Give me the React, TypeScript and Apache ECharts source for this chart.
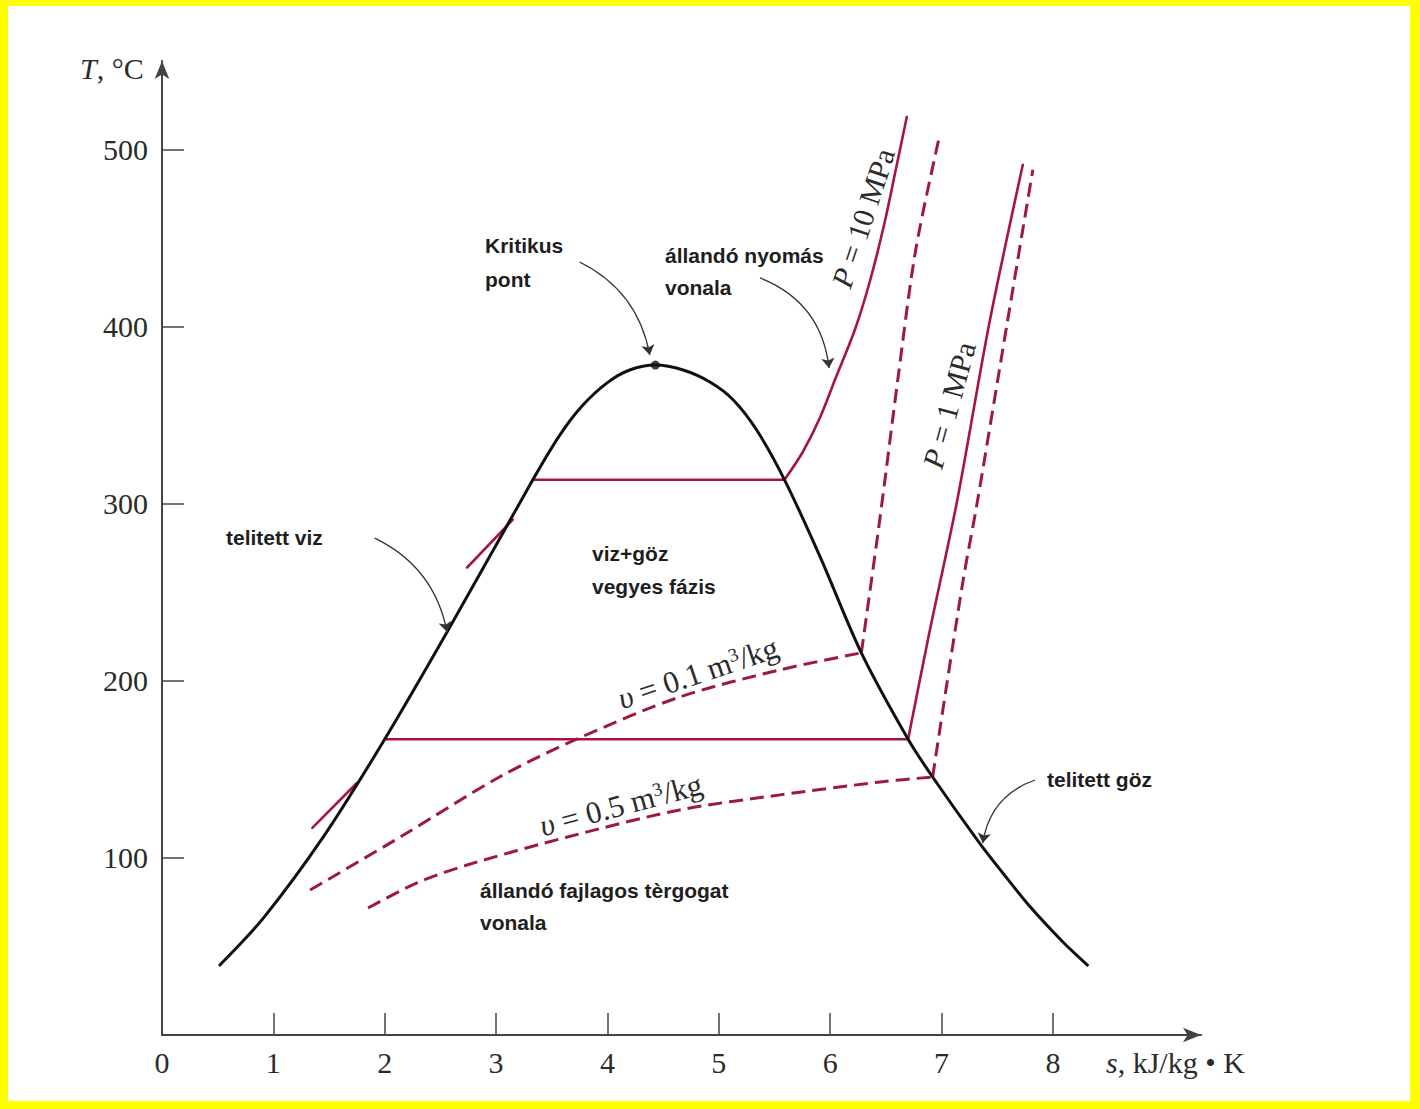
import React, { useEffect, useRef } from 'react';
import * as echarts from 'echarts';

// ---- axis ticks ----
const xTickLabels = [0, 1, 2, 3, 4, 5, 6, 7, 8];
const xTickMarks = [1, 2, 3, 4, 5, 6, 7, 8];
const yTickValues = [100, 200, 300, 400, 500];

// ---- curves: [s (kJ/kg·K), T (°C)] ----
const saturationDome = [
  [0.52, 39.5], [0.91, 66], [1.45, 112], [2.0, 167], [2.56, 227.5], [3.33, 313.5],
  [3.575, 339], [3.78, 355.7], [4.0, 368.4], [4.2, 375.5], [4.43, 378.3], [4.68, 375.5],
  [4.92, 368.7], [5.13, 358.6], [5.34, 341.6], [5.59, 313.5], [5.91, 270], [6.28, 215.8],
  [6.7, 167], [6.92, 145.7], [7.34, 108.5], [7.55, 91.5], [7.79, 72.8], [8.09, 52.5], [8.31, 39.5],
];
const criticalPoint = [[4.43, 378.3]];

const p10Saturated = [[3.33, 313.5], [5.59, 313.5]];
const p10Superheated = [
  [5.59, 313.5], [5.754, 329.2], [5.907, 348.4], [6.059, 372.5], [6.221, 398.1], [6.355, 425.2],
  [6.49, 459.1], [6.598, 491.3], [6.688, 518.4],
];
const p10Liquid = [[2.74, 264], [3.15, 291]];

const p1Saturated = [[2.0, 167], [6.7, 167]];
const p1Superheated = [[6.7, 167], [6.89, 227], [7.14, 301.6], [7.43, 402.2], [7.73, 491.4]];
const p1Liquid = [[1.35, 117], [1.75, 142.3]];

const v01Wet = [
  [1.33, 81.9], [2.14, 111.8], [3.03, 145.7], [3.75, 167.8], [4.65, 190.9], [5.55, 206.2], [6.28, 215.8],
];
const v01Superheated = [[6.28, 215.8], [6.445, 290.8], [6.607, 369.9], [6.768, 443.3], [6.984, 508.2]];

const v05Wet = [
  [1.85, 71.7], [2.29, 85.9], [2.74, 96], [3.64, 111.8], [4.65, 127.1], [5.55, 135.6],
  [6.45, 142.9], [6.92, 145.7],
];
const v05Superheated = [[6.92, 145.7], [7.19, 255.3], [7.32, 300.5], [7.59, 402.2], [7.82, 488.6]];

// annotation arrows: from, to, curveness
const annotationArrows = [
  { from: [3.75, 436.5], to: [4.38, 384.0], curveness: 0.25 },
  { from: [5.37, 427.5], to: [5.99, 376.6], curveness: 0.3 },
  { from: [1.91, 280.6], to: [2.56, 227.6], curveness: 0.25 },
  { from: [7.84, 144.0], to: [7.37, 108.4], curveness: -0.3 },
];

const SERIF = '"Liberation Serif", "Times New Roman", serif';
const SANS = '"Liberation Sans", Arial, sans-serif';
const RED = '#a5153f';
const RED_DASH = '#9c1b3d';
const AXIS = '#444';
const TXT = '#2b2b2b';

function redLine(data: number[][], smooth: number | boolean = false) {
  return {
    type: 'line', data, smooth, showSymbol: false, symbol: 'none', z: 2,
    lineStyle: { color: RED, width: 2.6, cap: 'round' },
  };
}
function redDash(data: number[][]) {
  return {
    type: 'line', data, smooth: 0.3, showSymbol: false, symbol: 'none', z: 2,
    lineStyle: { color: RED_DASH, width: 3, type: [14, 7] },
  };
}

function sansText(x: number, y: number, text: string) {
  return {
    type: 'text', x, y, z: 10,
    style: { text, fontFamily: SANS, fontWeight: 'bold', fontSize: 21, fill: '#1e1e1e', verticalAlign: 'middle', align: 'left' },
  };
}

const serifRich = (size: number) => ({
  i: { fontStyle: 'italic', fontSize: size, fontFamily: SERIF, fill: TXT },
  n: { fontSize: size, fontFamily: SERIF, fill: TXT },
  sup: { fontSize: Math.round(size * 0.6), fontFamily: SERIF, fill: TXT, verticalAlign: 'top' },
});

function serifText(x: number, y: number, text: string, size: number, rotation = 0, align = 'center') {
  return {
    type: 'text', x, y, rotation, z: 10,
    style: { text, rich: serifRich(size), fontFamily: SERIF, fontSize: size, fill: TXT, align, verticalAlign: 'middle' },
  };
}

export default function App() {
  const ref = useRef<HTMLDivElement>(null);
  useEffect(() => {
    if (!ref.current) return;
    const chart = echarts.init(ref.current, null, { renderer: 'svg' });
    const option: any = {
      animation: false,
      backgroundColor: 'transparent',
      grid: { left: 162, top: 61, width: 1039, height: 974 },
      xAxis: {
        type: 'value', min: 0, max: 9.33,
        axisLine: { show: true, onZero: false, symbol: ['none', 'arrow'], symbolSize: [11, 18], lineStyle: { color: AXIS, width: 2 } },
        axisTick: { show: true, inside: true, length: 22, customValues: xTickMarks, lineStyle: { color: AXIS, width: 1.5 } },
        axisLabel: { customValues: xTickLabels, margin: 12, fontSize: 30, fontFamily: SERIF, color: TXT },
        splitLine: { show: false },
      },
      yAxis: {
        type: 'value', min: 0, max: 550,
        axisLine: { show: true, onZero: false, symbol: ['none', 'arrow'], symbolSize: [11, 18], lineStyle: { color: AXIS, width: 2 } },
        axisTick: { show: true, inside: true, length: 22, customValues: yTickValues, lineStyle: { color: AXIS, width: 1.5 } },
        axisLabel: { customValues: yTickValues, margin: 14, fontSize: 30, fontFamily: SERIF, color: TXT },
        splitLine: { show: false },
      },
      series: [
        redLine(p10Saturated),
        redLine(p10Superheated, 0.3),
        redLine(p10Liquid),
        redLine(p1Saturated),
        redLine(p1Superheated, 0.3),
        redLine(p1Liquid),
        redDash(v01Wet),
        redDash(v01Superheated),
        redDash(v05Wet),
        redDash(v05Superheated),
        {
          type: 'line', data: saturationDome, smooth: 0.3, showSymbol: false, symbol: 'none', z: 3,
          lineStyle: { color: '#111', width: 3, join: 'round', cap: 'round' },
        },
        {
          type: 'scatter', data: criticalPoint, symbol: 'circle', symbolSize: 9, z: 4,
          itemStyle: { color: '#111' },
        },
        {
          type: 'lines', coordinateSystem: 'cartesian2d', z: 5,
          symbol: ['none', 'arrow'], symbolSize: 10,
          lineStyle: { color: '#333', width: 1.3, opacity: 1 },
          data: annotationArrows.map((a) => ({ coords: [a.from, a.to], lineStyle: { curveness: a.curveness } })),
        },
      ],
      graphic: [
        serifText(80, 68, '{i|T}{n|, °C}', 30, 0, 'left'),
        serifText(1106, 1062, '{i|s}{n|, kJ/kg • K}', 30, 0, 'left'),
        serifText(863, 218, '{i|P}{n| = 10 MPa}', 30, 1.253),
        serifText(949, 405, '{i|P}{n| = 1 MPa}', 30, 1.305),
        serifText(698, 673, '{i|υ}{n| = 0.1 m}{sup|3}{n|/kg}', 31, 0.325),
        serifText(621, 805, '{i|υ}{n| = 0.5 m}{sup|3}{n|/kg}', 31, 0.26),
        sansText(485, 245, 'Kritikus'),
        sansText(485, 279, 'pont'),
        sansText(665, 255, 'állandó nyomás'),
        sansText(665, 287, 'vonala'),
        sansText(226, 537, 'telitett viz'),
        sansText(592, 553, 'viz+göz'),
        sansText(592, 586, 'vegyes fázis'),
        sansText(480, 890, 'állandó fajlagos tèrgogat'),
        sansText(480, 922, 'vonala'),
        sansText(1047, 779, 'telitett göz'),
      ],
    };
    chart.setOption(option);
    return () => chart.dispose();
  }, []);
  return (
    <div
      style={{
        position: 'absolute', left: 0, top: 0, width: 1420, height: 1109, background: '#ffffff',
        boxShadow: 'inset 8px 6px 0 0 #ffff00, inset -10px -8px 0 0 #ffff00',
      }}
    >
      <div ref={ref} style={{ width: 1420, height: 1109 }} />
    </div>
  );
}
